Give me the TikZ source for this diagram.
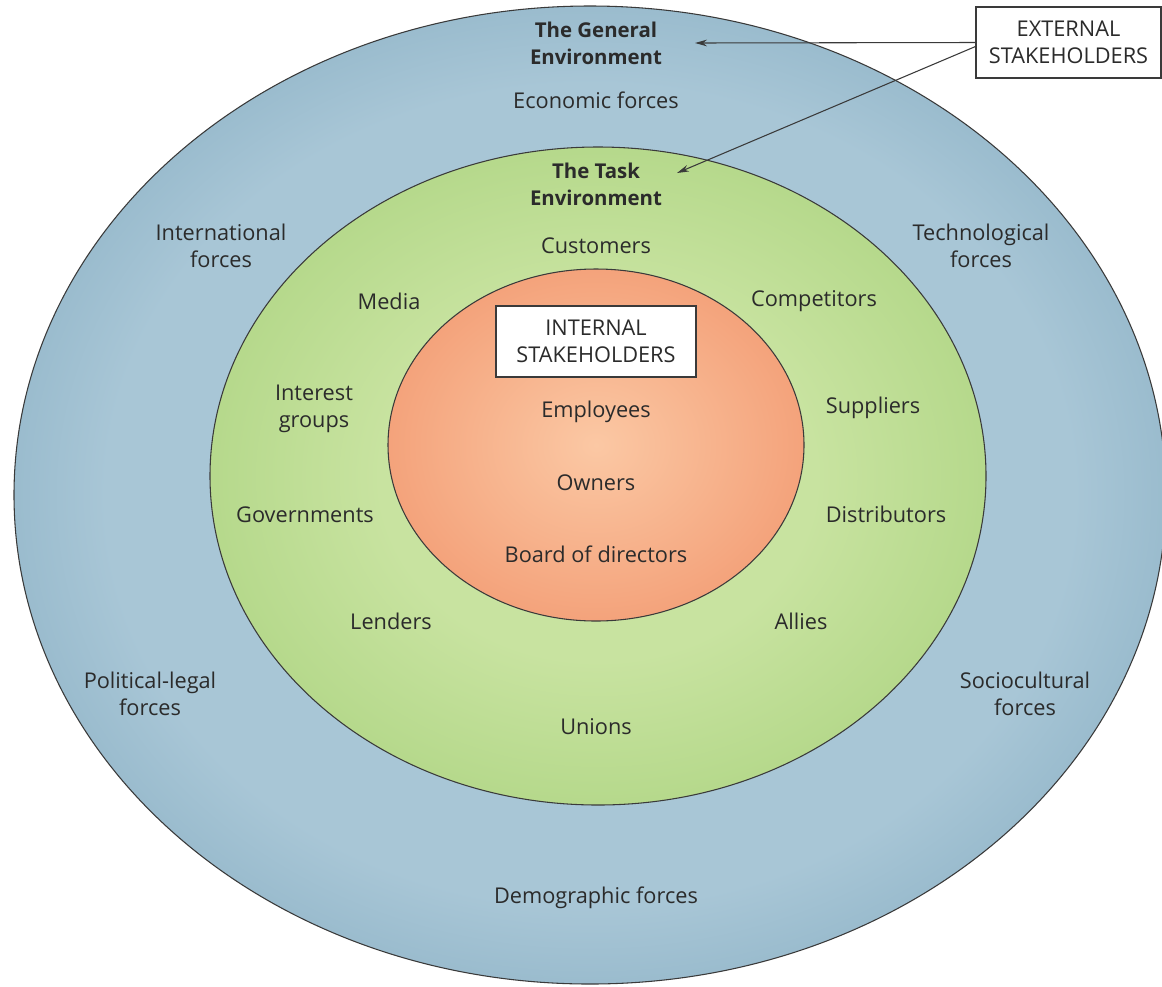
\documentclass[tikz,border=0pt]{standalone}
\usepackage{fontspec}
\setmainfont{Open Sans}
\usetikzlibrary{arrows.meta}

\definecolor{blueIn}{HTML}{A8C6D6}
\definecolor{blueOut}{HTML}{76A1B8}
\definecolor{greenIn}{HTML}{C8E3A0}
\definecolor{greenOut}{HTML}{A4CF78}
\definecolor{orangeIn}{HTML}{FBC8A4}
\definecolor{orangeOut}{HTML}{F1936A}
\definecolor{ink}{HTML}{2B2B2B}
\definecolor{rim}{HTML}{3A3A3A}

% radial shadings; the rim of the shaded ellipse sits at about 35bp
\pgfdeclareradialshading{generalshade}{\pgfpoint{0bp}{0bp}}{%
  color(0bp)=(blueIn); color(21bp)=(blueIn); color(35.5bp)=(blueOut); color(72bp)=(blueOut)}
\pgfdeclareradialshading{taskshade}{\pgfpoint{0bp}{0bp}}{%
  color(0bp)=(greenIn); color(14bp)=(greenIn); color(35.5bp)=(greenOut); color(72bp)=(greenOut)}
\pgfdeclareradialshading{internalshade}{\pgfpoint{0bp}{0bp}}{%
  color(0bp)=(orangeIn); color(35.5bp)=(orangeOut); color(72bp)=(orangeOut)}

\begin{document}
\begin{tikzpicture}[x=0.75pt,y=-0.75pt,
  lbl/.style={text=ink,align=center,font=\fontsize{16.3}{20.3}\selectfont,inner sep=0pt},
  head/.style={lbl,font=\fontsize{15.3}{20.3}\selectfont\bfseries},
  tag/.style={lbl,draw=rim,fill=white,line width=0.8pt},
  rimline/.style={draw=rim,line width=0.8pt},
  arr/.style={draw=rim,line width=0.8pt,-{Stealth[length=9pt,width=5pt]}}]

\useasboundingbox[fill=white] (0,0) rectangle (1162,986);

% nested environments
\path[rimline,shading=generalshade] (590,495) ellipse [x radius=576, y radius=489];
\path[rimline,shading=taskshade] (598,476) ellipse [x radius=388, y radius=329];
\path[rimline,shading=internalshade] (596,445) ellipse [x radius=208, y radius=176];

% general environment
\node[head] (general) at (596,43.5) {The General\\Environment};
\node[lbl] (economic) at (596,100) {Economic forces};
\node[lbl] (international) at (221,246) {International\\forces};
\node[lbl] (technological) at (981,246) {Technological\\forces};
\node[lbl] (political) at (150,694) {Political-legal\\forces};
\node[lbl] (sociocultural) at (1025,694) {Sociocultural\\forces};
\node[lbl] (demographic) at (596,898) {Demographic forces};

% task environment
\node[head] (task) at (596,184.5) {The Task\\Environment};
\node[lbl] (customers) at (596,246) {Customers};
\node[lbl] (media) at (389,301) {Media};
\node[lbl] (competitors) at (814,301) {Competitors};
\node[lbl] (interest) at (314,408.5) {Interest\\groups};
\node[lbl] (suppliers) at (873,408) {Suppliers};
\node[lbl] (governments) at (305,515) {Governments};
\node[lbl] (distributors) at (886,514) {Distributors};
\node[lbl] (lenders) at (391,621) {Lenders};
\node[lbl] (allies) at (801,621) {Allies};
\node[lbl] (unions) at (596,727) {Unions};

% internal stakeholders
\node[tag,minimum width=150pt,minimum height=53.25pt] (internal) at (596,341.5) {INTERNAL\\STAKEHOLDERS};
\node[lbl] (employees) at (596,412) {Employees};
\node[lbl] (owners) at (596,483) {Owners};
\node[lbl] (board) at (596,554) {Board of directors};

% external stakeholders and their pointers
\node[tag,minimum width=138.75pt,minimum height=53.25pt] (external) at (1068.5,42.5) {EXTERNAL\\STAKEHOLDERS};
\coordinate (generalTip) at (695,43);
\coordinate (taskTip) at (677,173);
\draw[arr] (external.west) -- (generalTip);
\draw[arr] ([yshift=-3pt]external.west) -- (taskTip);
\end{tikzpicture}
\end{document}
